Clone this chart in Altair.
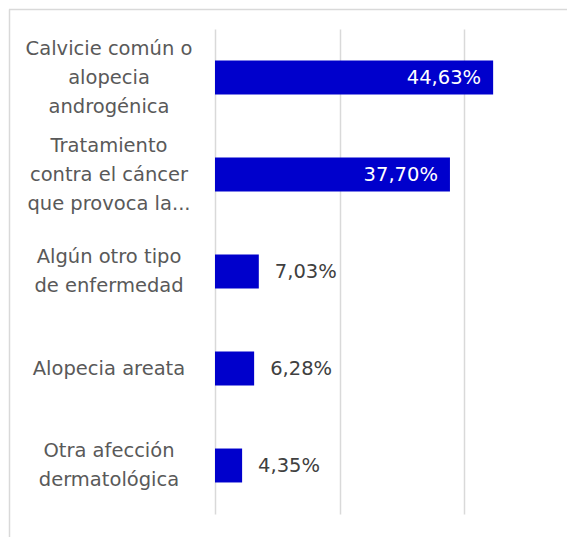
import altair as alt
import pandas as pd

categories = [
    "Calvicie común o\nalopecia\nandrogénica",
    "Tratamiento\ncontra el cáncer\nque provoca la...",
    "Algún otro tipo\nde enfermedad",
    "Alopecia areata",
    "Otra afección\ndermatológica",
]
values = [44.63, 37.70, 7.03, 6.28, 4.35]
grid_ticks = [0, 20, 40]

FONT = "DejaVu Sans"
BAR = "#0000CC"
GRID = "#D9D9D9"
LINE_H = 29

df = pd.DataFrame({"cat": categories, "val": values})

y_enc = alt.Y(
    "cat:N",
    sort=categories,
    scale=alt.Scale(paddingInner=0.65, paddingOuter=0.325),
    axis=alt.Axis(title=None, domain=False, ticks=False, labels=False),
)
x_enc = alt.X(
    "val:Q",
    scale=alt.Scale(domain=[0, 56], nice=False),
    axis=alt.Axis(
        title=None, labels=False, ticks=False, domain=False, grid=True,
        values=grid_ticks, gridColor=GRID, gridWidth=1.5,
    ),
)

base = alt.Chart(df).encode(y=y_enc, x=x_enc)

bars = base.mark_bar(color=BAR)

labelled = base.transform_calculate(
    lab="replace(format(datum.val, '.2f'), '.', ',') + '%'"
)
inside = labelled.transform_filter("datum.val > 20").mark_text(
    align="right", baseline="middle", dx=-12, color="white",
    font=FONT, fontSize=19.5,
).encode(text="lab:N")
outside = labelled.transform_filter("datum.val <= 20").mark_text(
    align="left", baseline="middle", dx=16, color="#404040",
    font=FONT, fontSize=19.5,
).encode(text="lab:N")

# category labels (multi-line, each line centred, block centred on the bar)
cat_base = alt.Chart(df).transform_calculate(
    lines="split(datum.cat, '\\n')", n="length(split(datum.cat, '\\n'))"
)
cat_layers = []
for n in (1, 2, 3):
    cat_layers.append(
        cat_base.transform_filter(f"datum.n == {n}").mark_text(
            align="center", baseline="middle", font=FONT, fontSize=19.5,
            color="#595959", lineHeight=LINE_H, dy=-(n - 1) * LINE_H / 2,
        ).encode(y=y_enc, x=alt.value(-106), text="lines:N")
    )

border_df = pd.DataFrame({"k": [0]})
left_border = alt.Chart(border_df).mark_rule(color=GRID, strokeWidth=1.5).encode(
    x=alt.value(-205.5), y=alt.value(-19.5), y2=alt.value(508)
)
top_border = alt.Chart(border_df).mark_rule(color=GRID, strokeWidth=1.5).encode(
    x=alt.value(-206), x2=alt.value(352), y=alt.value(-19.5)
)

chart = (
    alt.layer(left_border, top_border, bars, inside, outside, *cat_layers)
    .properties(width=349, height=485, padding=0)
    .configure_view(stroke=None)
)

chart.save("out.html", embed_options={"renderer": "svg", "actions": False})
